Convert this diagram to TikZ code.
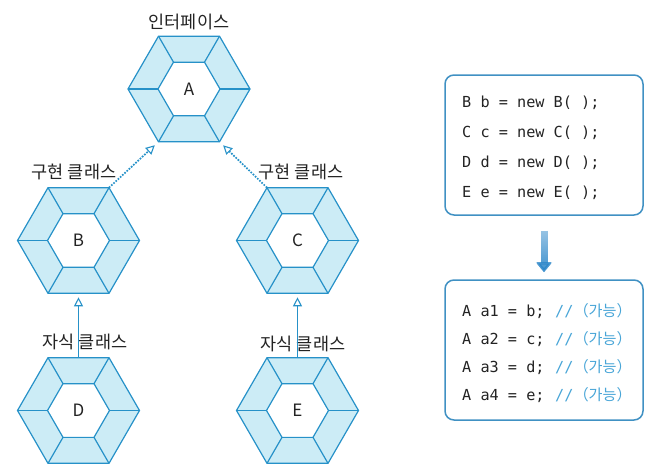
\documentclass[tikz,border=0pt]{standalone}
\usepackage{fontspec}
\setmainfont{Noto Sans CJK KR}
\setmonofont{DejaVu Sans Mono}
\newfontfamily\cjk{Noto Sans CJK KR}
\usetikzlibrary{shapes.geometric,arrows.meta,fadings}
\definecolor{hexline}{RGB}{38,145,200}
\definecolor{hexfill}{RGB}{204,236,246}
\definecolor{boxline}{RGB}{64,145,195}
\definecolor{cmt}{RGB}{72,165,215}
\definecolor{arrowblue}{RGB}{40,132,200}
\definecolor{ink}{RGB}{35,35,35}
\tikzset{
	hexout/.style={regular polygon, regular polygon sides=6, minimum size=122pt, inner sep=0pt, outer sep=0pt, draw=hexline, fill=hexfill, line width=1.2pt},
	hexin/.style={regular polygon, regular polygon sides=6, minimum size=62pt, inner sep=0pt, outer sep=0pt, draw=hexline, fill=white, line width=1.2pt, text=ink, font=\fontsize{17}{17}\selectfont},
	kor/.style={text=ink, font=\fontsize{17.5}{17.5}\selectfont},
	code/.style={anchor=base west, inner sep=0pt, text=ink, font=\ttfamily\fontsize{15.2}{15}\selectfont},
	codebox/.style={draw=boxline, line width=1.5pt, rounded corners=9pt, minimum width=198pt, minimum height=140pt},
	impl/.style={draw=hexline, line width=1.7pt, dash pattern=on 1.7pt off 1.3pt, shorten >=5pt, -{Triangle[open, length=9pt, width=9pt, line width=1.1pt]}},
	inherit/.style={draw=hexline, line width=1pt, shorten >=4pt, -{Triangle[open, length=9pt, width=9pt, line width=1.1pt]}},
	downarrow/.style={line width=7pt, shorten <=15pt, shorten >=7pt, -{Triangle[length=10pt, width=16pt]}}
}
\begin{document}
\begin{tikzpicture}[x=1pt, y=-1pt]
	\useasboundingbox (0,0) rectangle (654,474);
	\foreach \n/\x/\y in {A/189/89, B/78.5/240.5, C/297.5/240.5, D/78.5/410.5, E/297.5/410.5}{
		\node[hexout] (\n) at (\x,\y) {};
		\node[hexin] (in\n) at (\x,\y) {\n};
		\foreach \k in {1,...,6}
			\draw[hexline, line width=1.2pt] (\n.corner \k) -- (in\n.corner \k);
	}
	\node[kor] (tA) at (189,21.5) {인터페이스};
	\node[kor] (tB) at (74,171.5) {구현 클래스};
	\node[kor] (tC) at (301,171.5) {구현 클래스};
	\node[kor] (tD) at (85,341.5) {자식 클래스};
	\node[kor] (tE) at (303,343.5) {자식 클래스};
	\draw[impl] (B.corner 1) -- (A.corner 4);
	\draw[impl] (C.corner 2) -- (A.corner 5);
	\draw[inherit] (D.north) -- (B.south);
	\draw[inherit] (E.north) -- (C.south);
	\node[codebox] (box1) at (544,145) {};
	\node[codebox] (box2) at (544,350) {};
	\foreach \U/\l [count=\i] in {B/b, C/c, D/d, E/e}
		\node[code] (new\U) at (462,77+30*\i) {{\U} {\l} = new {\U}( );};
	\foreach \l/\r [count=\i] in {a1/b, a2/c, a3/d, a4/e}{
		\node[code] (asg\i) at (462,288.8+27.8*\i) {A {\l} = {\r};};
		\node[code, text=cmt] (cmt\i) at (555,288.8+27.8*\i) {//{\cjk （가능）}};
	}
	\draw[downarrow, arrowblue!30] (box1.south) -- (box2.north);
	\draw[downarrow, arrowblue, path fading=north] (box1.south) -- (box2.north);
\end{tikzpicture}
\end{document}
